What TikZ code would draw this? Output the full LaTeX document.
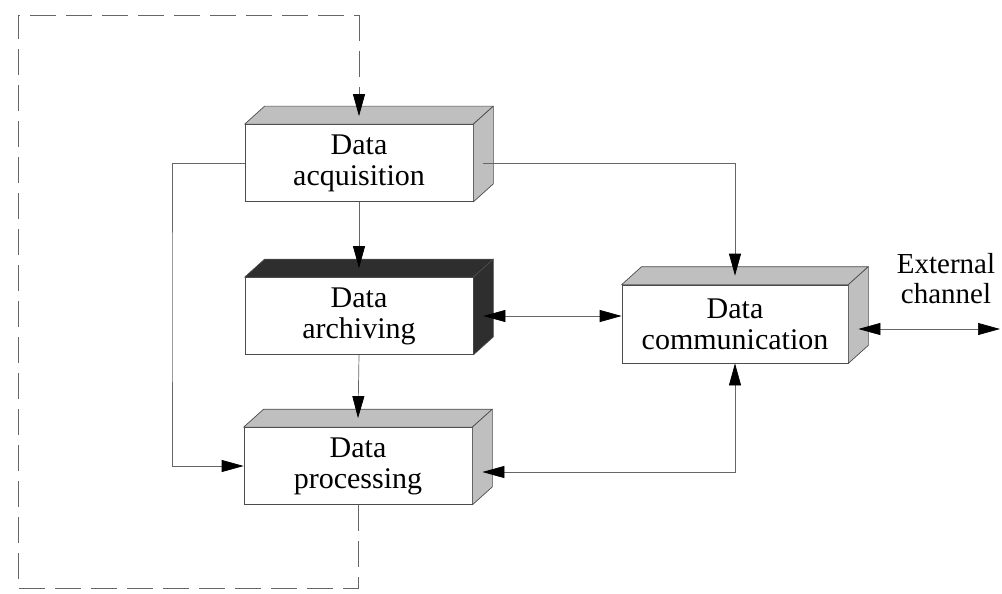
\documentclass[tikz,border=0pt]{standalone}
\usepackage{fontspec}
\setmainfont{Liberation Serif}
\usetikzlibrary{arrows.meta}
\tikzset{
  blk/.style={draw=black!70, line width=0.7pt, fill=white, minimum width=228pt,
    minimum height=77pt, align=center, inner sep=0pt, font=\fontsize{30}{31}\selectfont},
  conn/.style={draw=black!60, line width=0.7pt, -{Triangle[length=22pt,width=12pt,color=black]}},
  conntwo/.style={draw=black!60, line width=0.7pt, {Triangle[length=22pt,width=12pt,color=black]}-{Triangle[length=22pt,width=12pt,color=black]}},
  dashline/.style={draw=black!60, line width=0.7pt, dash pattern=on 26pt off 10pt},
  lbl/.style={align=center, inner sep=0pt, font=\fontsize{29}{30}\selectfont}
}
\newcommand\boxfaces[2]{%
  \filldraw[fill=#2, draw=black!70, line width=0.7pt, line join=round]
    (#1.north west) -- ++(20,-18) -- ([shift={(20pt,18pt)}]#1.north east) -- (#1.north east) -- cycle;
  \filldraw[fill=#2, draw=black!70, line width=0.7pt, line join=round]
    (#1.north east) -- ++(20,-18) -- ([shift={(20pt,18pt)}]#1.south east) -- (#1.south east) -- cycle;
}
\begin{document}
\begin{tikzpicture}[x=1pt,y=-1pt]
\useasboundingbox (0,0) rectangle (1002,594);

\node[blk] (acq) at (359,163) {Data\\acquisition};
\node[blk] (arc) at (359,316) {Data\\archiving};
\node[blk] (proc) at (358,466) {Data\\processing};
\node[blk, minimum width=226pt, minimum height=78pt] (comm) at (735,324) {Data\\communication};
\boxfaces{acq}{black!25}
\boxfaces{arc}{black!82}
\boxfaces{proc}{black!25}
\boxfaces{comm}{black!25}

\node[lbl] (ext) at (946,279) {External\\channel};
\coordinate (extend) at (1000,329);
\coordinate (dbl) at (18,588);
\coordinate (dtl) at (18,15);
\coordinate (dtr) at (359,15);
\coordinate (lx) at (172,300);

% feedback dashed loop
\draw[dashline] (proc.south) |- (dbl) -- (dtl) -- (dtr);
\draw[dashline, conn] (dtr) -- ([yshift=8pt]acq.north);

% vertical flow
\draw[conn] (acq.south) -- ([yshift=9pt]arc.north);
\draw[conn] (arc.south) -- ([yshift=9pt]proc.north);

% left bypass
\draw[conn] (acq.west) -| (lx) |- (proc.west);

% acquisition to communication
\draw[conn] ([xshift=10pt]acq.east) -| ([yshift=9pt]comm.north);

% archiving <-> communication
\draw[conntwo] ([xshift=10pt]arc.east) -- (comm.west |- arc.east);

% communication <-> processing
\draw[conntwo] (comm.south) |- ([shift={(10pt,-6pt)}]proc.east);

% external channel
\draw[conntwo] ([shift={(10pt,-5pt)}]comm.east) -- (extend);
\end{tikzpicture}
\end{document}
